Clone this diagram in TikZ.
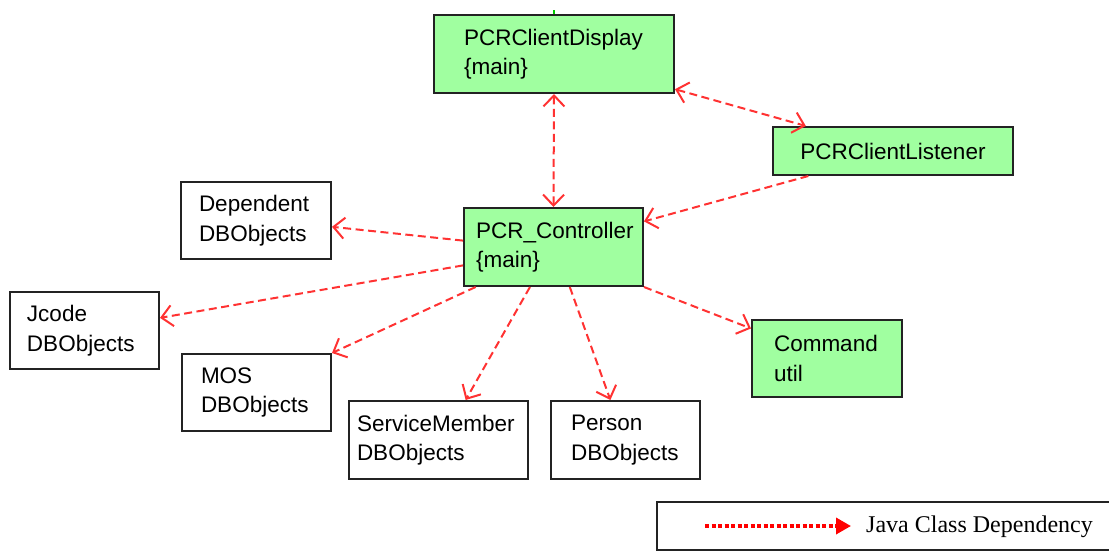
\documentclass[tikz,border=0pt]{standalone}
\usepackage{fontspec}
\setmainfont{Liberation Sans}
\newfontfamily\legendfont{Liberation Serif}
\usetikzlibrary{arrows.meta,calc}
\definecolor{boxgreen}{RGB}{160,255,160}
\definecolor{depred}{RGB}{255,50,50}
\definecolor{boxline}{RGB}{35,35,35}
\tikzset{
  cls/.style={draw=boxline,line width=2pt,align=left,inner ysep=0pt,
    font=\fontsize{22.5}{29.5}\selectfont},
  mainbox/.style={cls,fill=boxgreen},
  dep/.style={draw=depred,line width=2pt,dash pattern=on 8pt off 4.5pt,
    -{Straight Barb[length=11pt,width=21pt,line width=2pt]}},
  bidep/.style={dep,{Straight Barb[length=11pt,width=21pt,line width=2pt]}-{Straight Barb[length=11pt,width=21pt,line width=2pt]}},
}
\begin{document}
\begin{tikzpicture}[x=1pt,y=-1pt]
\useasboundingbox (0,0) rectangle (1109,550);
% boxes
\node[mainbox,minimum width=240pt,minimum height=78pt,text width=180pt,inner xsep=30pt] (disp) at (554,54) {PCRClientDisplay\\\{main\}};
\node[mainbox,minimum width=240pt,minimum height=48pt,text width=214pt,inner xsep=13pt,align=center] (list) at (893,151) {PCRClientListener};
\node[mainbox,minimum width=179pt,minimum height=78pt,text width=155pt,inner xsep=12pt] (ctrl) at (553.5,247) {PCR\_Controller\\\{main\}};
\node[cls,minimum width=150pt,minimum height=77pt,text width=114pt,inner xsep=18pt] (dep) at (256,220.5) {Dependent\\DBObjects};
\node[cls,minimum width=149pt,minimum height=77pt,text width=115pt,inner xsep=17pt] (jcode) at (84.5,330.5) {Jcode\\DBObjects};
\node[cls,minimum width=149pt,minimum height=77pt,text width=111pt,inner xsep=19pt] (mos) at (256.5,392.5) {MOS\\DBObjects};
\node[cls,minimum width=179pt,minimum height=78pt,text width=163pt,inner xsep=8pt] (sm) at (438.5,440) {ServiceMember\\DBObjects};
\node[cls,minimum width=149pt,minimum height=78pt,text width=109pt,inner xsep=20pt] (pers) at (625.5,440) {Person\\DBObjects};
\node[mainbox,minimum width=150pt,minimum height=77pt,text width=106pt,inner xsep=22pt] (cmd) at (827,358.5) {Command\\util};
% tiny green tick above display
\coordinate (tickA) at (554,10);
\draw[green!80!black,line width=1.5pt] (tickA) -- (disp.north);
% connectors
\draw[bidep] (disp.south) -- (ctrl.north);
\draw[bidep] ($(disp.north east)!0.94!(disp.south east)$) -- ($(list.north west)!0.14!(list.north east)$);
\draw[dep] ($(list.south west)!0.15!(list.south east)$) -- ($(ctrl.north east)!0.18!(ctrl.south east)$);
\draw[dep] ($(ctrl.north west)!0.42!(ctrl.south west)$) -- ($(dep.north east)!0.58!(dep.south east)$);
\draw[dep] ($(ctrl.north west)!0.73!(ctrl.south west)$) -- ($(jcode.north east)!0.34!(jcode.south east)$);
\draw[dep] ($(ctrl.south west)!0.07!(ctrl.south east)$) -- (mos.north east);
\draw[dep] ($(ctrl.south west)!0.37!(ctrl.south east)$) -- ($(sm.north west)!0.65!(sm.north east)$);
\draw[dep] ($(ctrl.south west)!0.59!(ctrl.south east)$) -- ($(pers.north west)!0.40!(pers.north east)$);
\draw[dep] (ctrl.south east) -- ($(cmd.north west)!0.12!(cmd.south west)$);
% legend
\node[draw=boxline,line width=1.4pt,minimum width=456pt,minimum height=48pt,inner sep=0pt] (legend) at (885,526) {};
\coordinate (legA) at (705,526);
\coordinate (legB) at (851,526);
\draw[red,line width=3.5pt,dash pattern=on 4pt off 2.5pt,-{Triangle[length=15pt,width=16pt]}] (legA) -- (legB);
\node[anchor=west,inner sep=0pt,font=\legendfont\fontsize{24}{28}\selectfont] (legtext) at (866,527) {Java Class Dependency};
\end{tikzpicture}
\end{document}
